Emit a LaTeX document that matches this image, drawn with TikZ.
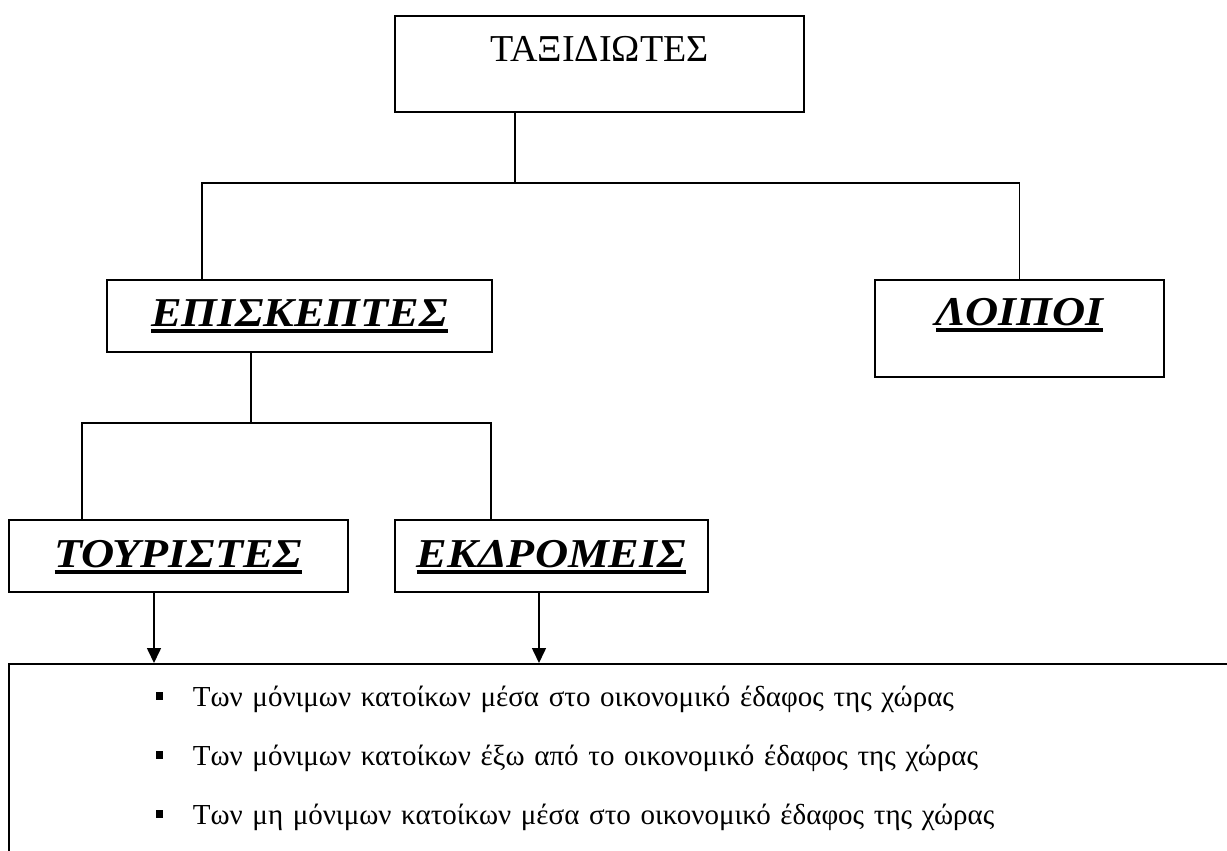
\documentclass[tikz,border=0pt]{standalone}
\usepackage{fontspec}
\usepackage{graphicx}
\setmainfont{Liberation Serif}
\usetikzlibrary{arrows.meta}
\tikzstyle{titlebox} = [draw, line width=1.8pt, inner xsep=0, inner ysep=0, anchor=north west, font=\fontsize{38}{40}\selectfont]
\tikzstyle{listbox} = [draw, line width=1.8pt, inner sep=0, anchor=north west, align=left, font=\fontsize{29}{59}\selectfont]
\tikzstyle{line} = [line width=1.6pt]
\tikzstyle{arrow} = [line, -{Triangle[length=15pt,width=14pt]}]
\newcommand{\ultitle}[1]{\scalebox{1.12}[1]{\fontsize{41}{43}\selectfont\setbox0\hbox{\bfseries\itshape #1}\rlap{\rule[-6pt]{\wd0}{3.5pt}}\box0}}
\newcommand{\listbullet}{\hspace*{147pt}\rule[7pt]{7pt}{8pt}\hspace{30pt}}

\begin{document}
\begin{tikzpicture}[x=1pt, y=-1pt]
    \useasboundingbox (0,0) rectangle (1227,851);
    \clip (0,0) rectangle (1227,851);

    \node[titlebox, minimum width=409pt, text height=46pt, text depth=50pt] (travellers) at (394,15) {ΤΑΞΙΔΙΩΤΕΣ};
    \node[titlebox, minimum width=385pt, text height=47pt, text depth=25pt] (visitors) at (106,279) {\ultitle{ΕΠΙΣΚΕΠΤΕΣ}};
    \node[titlebox, minimum width=289pt, text height=46pt, text depth=51pt] (others) at (874,279) {\ultitle{ΛΟΙΠΟΙ}};
    \node[titlebox, minimum width=339pt, text height=48pt, text depth=24pt] (tourists) at (8,519) {\ultitle{ΤΟΥΡΙΣΤΕΣ}};
    \node[titlebox, minimum width=313pt, text height=48pt, text depth=24pt] (excursionists) at (394,519) {\ultitle{ΕΚΔΡΟΜΕΙΣ}};
    \node[listbox, text width=1300pt] (residents) at (8,663) {\rule{0pt}{43pt}\listbullet Των μόνιμων κατοίκων μέσα στο οικονομικό έδαφος της χώρας\\
        \listbullet Των μόνιμων κατοίκων έξω από το οικονομικό έδαφος της χώρας\\
        \listbullet Των μη μόνιμων κατοίκων μέσα στο οικονομικό έδαφος της χώρας\rule[-120pt]{0pt}{120pt}};

    \coordinate (stem1) at (515,183);
    \coordinate (bar1) at (202,183);
    \coordinate (stem2) at (251,423);
    \coordinate (bar2) at (82,423);
    \coordinate (bar2end) at (491,423);
    \coordinate (drop1) at (154,0);
    \coordinate (drop2) at (539,0);

    \draw[line] (stem1 |- travellers.south) -- (stem1);
    \draw[line] (bar1 |- visitors.north) -- (bar1) -| (others.north);
    \draw[line] (stem2 |- visitors.south) -- (stem2);
    \draw[line] (bar2 |- tourists.north) -- (bar2) -- (bar2end) -- (bar2end |- excursionists.north);
    \draw[arrow] (drop1 |- tourists.south) -- (drop1 |- residents.north);
    \draw[arrow] (drop2 |- excursionists.south) -- (drop2 |- residents.north);
\end{tikzpicture}
\end{document}
